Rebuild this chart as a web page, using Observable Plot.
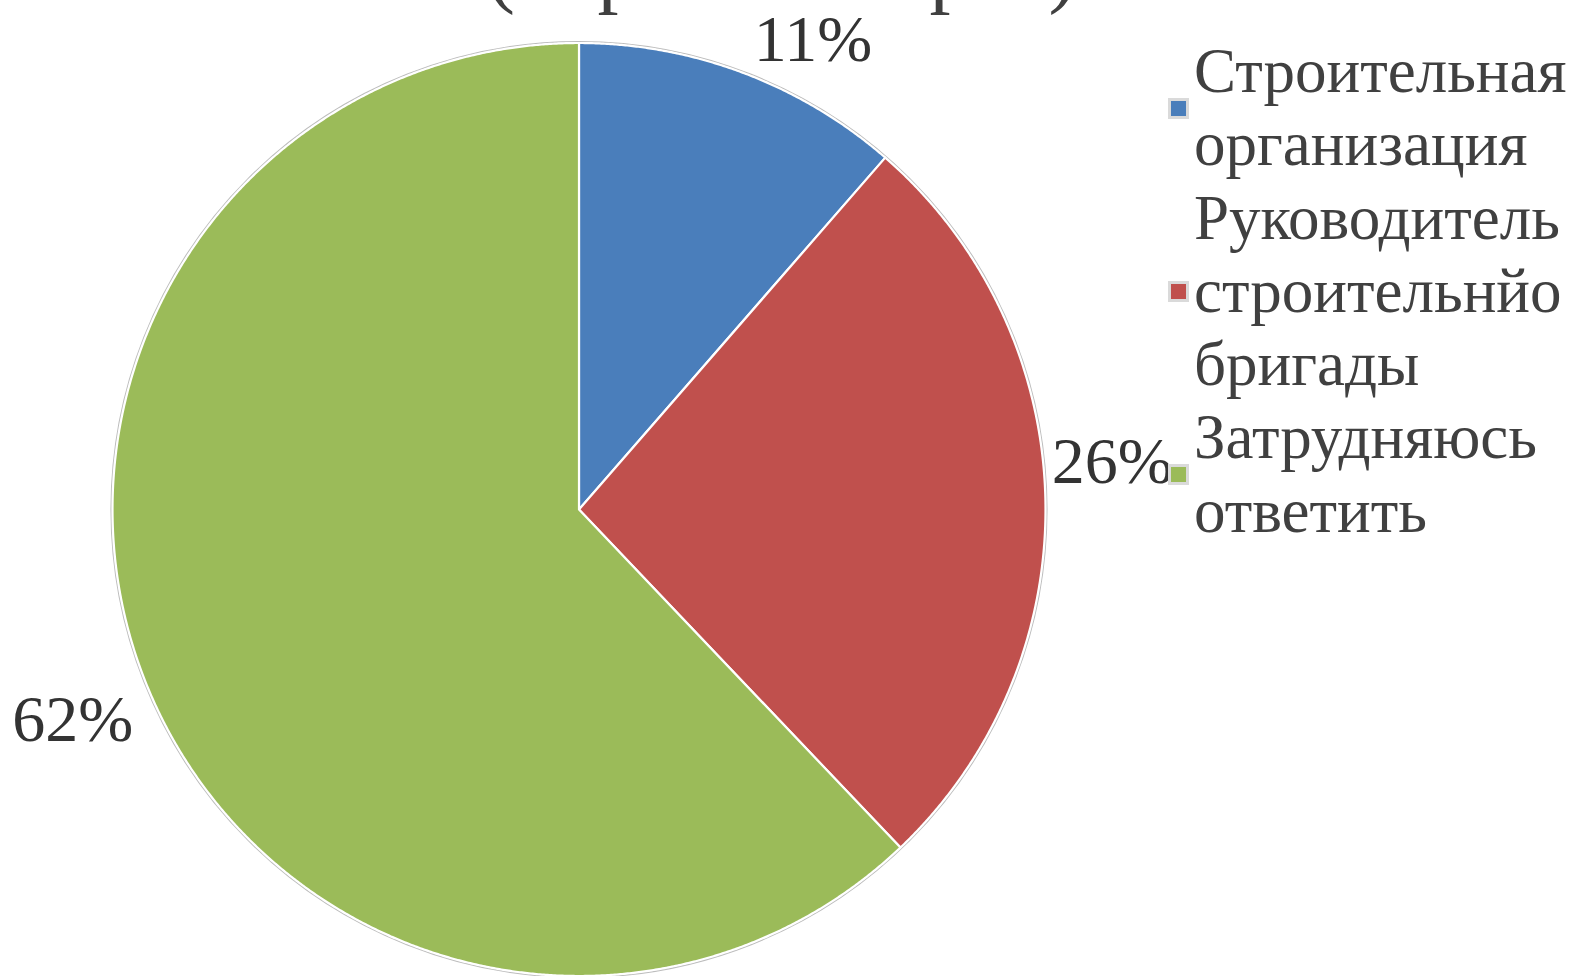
<!DOCTYPE html>
<html>
<head>
<meta charset="utf-8">
<script src="https://cdn.jsdelivr.net/npm/d3@7"></script>
<script src="https://cdn.jsdelivr.net/npm/@observablehq/plot@0.6"></script>
<style>
  html, body { margin: 0; padding: 0; background: #fff; overflow: hidden; }
  #root { position: relative; width: 1581px; height: 976px; overflow: hidden; background: #fff; }
  #chart { position: absolute; left: 0; top: 0; }
  #title { position: absolute; left: 487px; top: -73px; font-family: "Liberation Serif", serif; font-size: 84px; letter-spacing: -1.5px; line-height: 1; color: #404040; white-space: nowrap; }
  #legend { position: absolute; left: 1168px; top: 35px; font-family: "Liberation Serif", serif; font-size: 63px; line-height: 73.3px; color: #404040; }
  .entry { display: flex; align-items: center; }
  .swatch { width: 15px; height: 15px; border: 3px solid #dadada; margin-right: 5px; flex: none; }
  .lab { white-space: nowrap; }
</style>
</head>
<body>
<div id="root">
  <div id="chart"></div>
  <div id="title"></div>
  <div id="legend"></div>
</div>
<script>
// ---- data ----
const title = "(опрос мастеров)";
const categories = ["Строительная организация", "Руководитель строительнйо бригады", "Затрудняюсь ответить"];
const legendLines = [["Строительная", "организация"], ["Руководитель", "строительнйо", "бригады"], ["Затрудняюсь", "ответить"]];
const values = [11.4, 26.5, 62.1];
const labels = ["11%", "26%", "62%"];
const colors = ["#4A7EBB", "#C0504D", "#9BBB59"];

// ---- build tables ----
const data = categories.map((c, i) => ({cat: c, value: values[i], label: labels[i]}));
const arcs = d3.pie().sort(null).value(d => d.value)(data);

const slicePoints = arcs.flatMap(s => {
  const pts = [{cat: s.data.cat, x: 0, y: 0}];
  const n = Math.max(2, Math.ceil((s.endAngle - s.startAngle) / 0.004));
  for (let i = 0; i <= n; i++) {
    const a = s.startAngle + (s.endAngle - s.startAngle) * i / n;
    pts.push({cat: s.data.cat, x: Math.sin(a), y: Math.cos(a)});
  }
  return pts;
});

const k = 1.15;
const labelData = arcs.map((s, i) => {
  const m = (s.startAngle + s.endAngle) / 2;
  return {i, label: s.data.label, x: k * Math.sin(m), y: k * Math.cos(m)};
});

const textStyle = {x: "x", y: "y", text: "label", fontSize: 66, fontFamily: "Liberation Serif", fill: "#333"};

const chart = Plot.plot({
  width: 1581,
  height: 976,
  margin: 0,
  x: {domain: [-1, 1], range: [112, 1045], axis: null},
  y: {domain: [-1, 1], range: [975.5, 42.5], axis: null},
  color: {domain: categories, range: colors},
  style: {background: "transparent", overflow: "visible"},
  marks: [
    Plot.dot([{x: 0, y: 0}], {x: "x", y: "y", r: 467.8, fill: "none", stroke: "#bdbdbd", strokeWidth: 1.5}),
    Plot.line(slicePoints, {x: "x", y: "y", z: "cat", fill: "cat", stroke: "white", strokeWidth: 2.2, curve: "linear-closed"}),
    Plot.text(labelData.filter(d => d.i === 0), {...textStyle, dx: 46, dy: 33}),
    Plot.text(labelData.filter(d => d.i === 1), {...textStyle, dx: -3, dy: -36}),
    Plot.text(labelData.filter(d => d.i === 2), {...textStyle, dx: -8, dy: 11})
  ]
});
document.getElementById("chart").appendChild(chart);

document.getElementById("title").textContent = title;

const legend = document.getElementById("legend");
legendLines.forEach((lines, i) => {
  const e = document.createElement("div");
  e.className = "entry";
  const sw = document.createElement("div");
  sw.className = "swatch";
  sw.style.background = colors[i];
  const lab = document.createElement("div");
  lab.className = "lab";
  lines.forEach(t => { const l = document.createElement("div"); l.textContent = t; lab.appendChild(l); });
  e.appendChild(sw);
  e.appendChild(lab);
  legend.appendChild(e);
});
</script>
</body>
</html>
